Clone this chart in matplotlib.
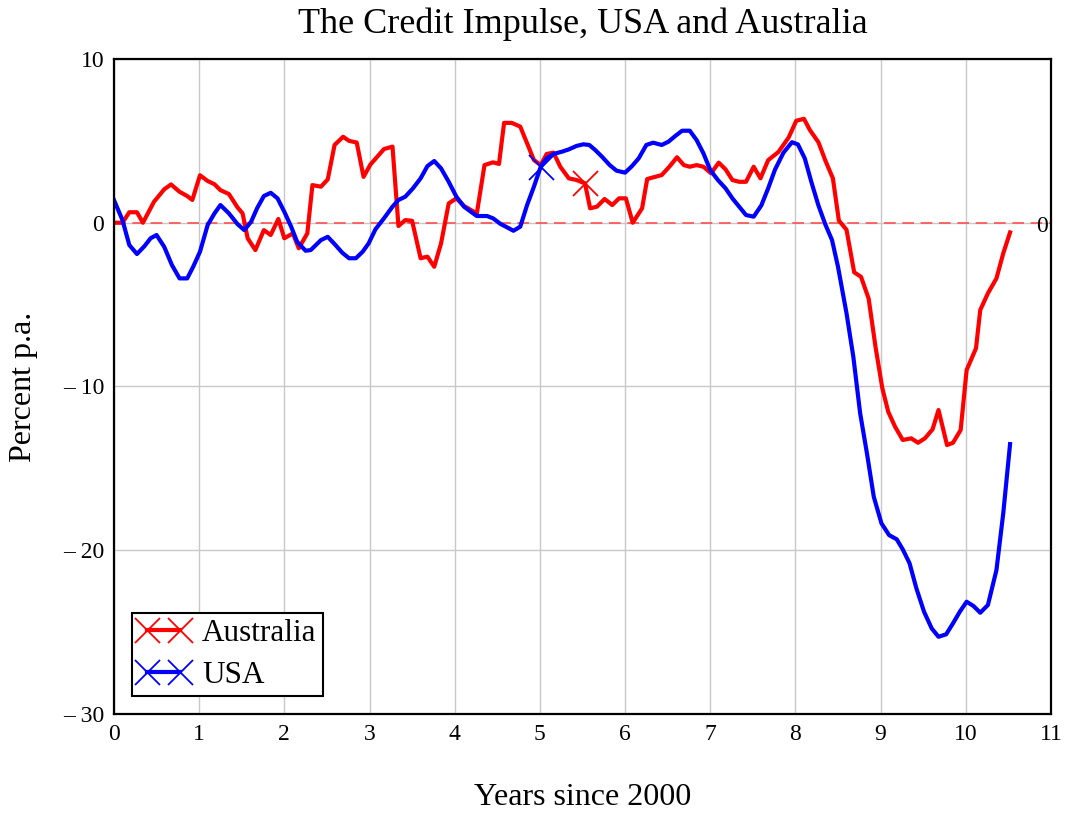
import matplotlib
matplotlib.use("Agg")
import matplotlib.pyplot as plt

# values (years since 2000, percent p.a.)
aus_x = [0.00, 0.10, 0.18, 0.27, 0.34, 0.47, 0.59, 0.67, 0.77, 0.86, 0.92,
         1.01, 1.10, 1.18, 1.25, 1.35, 1.45, 1.51, 1.57, 1.66, 1.76, 1.84, 1.93,
         2.00, 2.10, 2.17, 2.27, 2.33, 2.43, 2.51, 2.59, 2.69, 2.76, 2.85, 2.93,
         3.01, 3.17, 3.27, 3.34, 3.42, 3.50, 3.60, 3.68, 3.76, 3.84, 3.93,
         4.02, 4.11, 4.26, 4.35, 4.45, 4.52, 4.58, 4.67, 4.77, 4.85, 4.93,
         5.01, 5.08, 5.16, 5.24, 5.34, 5.43, 5.53, 5.59, 5.67, 5.76, 5.85, 5.93,
         6.01, 6.09, 6.20, 6.26, 6.33, 6.43, 6.52, 6.61, 6.69, 6.76, 6.84, 6.92,
         7.01, 7.10, 7.18, 7.26, 7.34, 7.42, 7.51, 7.59, 7.68, 7.80, 7.92,
         8.01, 8.10, 8.17, 8.27, 8.35, 8.44, 8.51, 8.60, 8.69, 8.77, 8.86, 8.94,
         9.02, 9.09, 9.17, 9.26, 9.36, 9.44, 9.52, 9.61, 9.68, 9.78, 9.85, 9.94,
         10.01, 10.12, 10.17, 10.26, 10.36, 10.44, 10.52]
aus_y = [0.0, 0.0, 0.64, 0.64, 0.0, 1.28, 2.04, 2.34, 1.89, 1.63, 1.39,
         2.90, 2.55, 2.35, 1.99, 1.75, 0.94, 0.57, -0.95, -1.67, -0.45, -0.75, 0.23,
         -0.95, -0.65, -1.56, -0.65, 2.30, 2.20, 2.65, 4.75, 5.25, 5.00, 4.90, 2.80,
         3.55, 4.50, 4.65, -0.20, 0.16, 0.12, -2.17, -2.07, -2.69, -1.26, 1.18,
         1.49, 1.02, 0.57, 3.52, 3.69, 3.59, 6.10, 6.10, 5.87, 4.85, 3.83,
         3.52, 4.20, 4.28, 3.42, 2.71, 2.61, 2.40, 0.88, 0.98, 1.45, 1.08, 1.49,
         1.49, 0.0, 0.88, 2.67, 2.77, 2.91, 3.42, 4.00, 3.52, 3.42, 3.52, 3.42,
         3.02, 3.67, 3.26, 2.61, 2.50, 2.50, 3.42, 2.71, 3.82, 4.32, 5.20,
         6.23, 6.35, 5.66, 4.92, 3.82, 2.71, 0.14, -0.43, -3.03, -3.30, -4.64, -7.57,
         -10.1, -11.55, -12.46, -13.27, -13.17, -13.44, -13.17, -12.62, -11.44, -13.58, -13.44, -12.66,
         -9.0, -7.67, -5.33, -4.31, -3.40, -1.87, -0.59]

usa_x = [0.00, 0.10, 0.18, 0.27, 0.36, 0.43, 0.50, 0.59, 0.68, 0.77, 0.86, 0.93,
         1.01, 1.10, 1.18, 1.25, 1.35, 1.45, 1.53, 1.61, 1.68, 1.76, 1.84, 1.92,
         2.00, 2.08, 2.15, 2.25, 2.31, 2.43, 2.51, 2.60, 2.68, 2.76, 2.84, 2.92, 2.99,
         3.07, 3.17, 3.27, 3.34, 3.42, 3.51, 3.60, 3.68, 3.76, 3.84, 3.93,
         4.02, 4.11, 4.19, 4.26, 4.38, 4.45, 4.54, 4.60, 4.69, 4.77, 4.85, 4.93,
         5.01, 5.08, 5.16, 5.26, 5.34, 5.43, 5.51, 5.58, 5.65, 5.73, 5.82, 5.90,
         6.00, 6.08, 6.16, 6.25, 6.33, 6.43, 6.51, 6.59, 6.67, 6.76, 6.84, 6.92,
         7.00, 7.09, 7.18, 7.26, 7.34, 7.42, 7.51, 7.60, 7.68, 7.76, 7.86, 7.96,
         8.03, 8.11, 8.19, 8.27, 8.35, 8.43, 8.50, 8.60, 8.68, 8.76, 8.84, 8.92,
         9.01, 9.10, 9.19, 9.26, 9.34, 9.42, 9.51, 9.60, 9.68, 9.77, 9.85, 9.93,
         10.01, 10.09, 10.17, 10.26, 10.36, 10.44, 10.52]
usa_y = [1.39, 0.16, -1.36, -1.91, -1.42, -0.95, -0.75, -1.47, -2.58, -3.40, -3.40, -2.69,
         -1.77, -0.14, 0.57, 1.08, 0.57, -0.08, -0.45, 0.06, 0.88, 1.63, 1.83, 1.49,
         0.67, -0.24, -1.16, -1.71, -1.67, -1.06, -0.86, -1.36, -1.83, -2.17, -2.17, -1.77, -1.26,
         -0.40, 0.27, 0.98, 1.39, 1.59, 2.10, 2.71, 3.46, 3.77, 3.32, 2.50,
         1.59, 0.98, 0.67, 0.41, 0.41, 0.27, -0.08, -0.24, -0.49, -0.24, 1.08, 2.20,
         3.42, 3.93, 4.20, 4.34, 4.48, 4.69, 4.79, 4.75, 4.44, 4.03, 3.52, 3.18,
         3.06, 3.45, 3.93, 4.75, 4.89, 4.75, 4.95, 5.30, 5.62, 5.62, 5.05, 4.24,
         3.22, 2.61, 2.10, 1.49, 0.98, 0.47, 0.37, 1.06, 2.10, 3.24, 4.28, 4.92,
         4.78, 3.93, 2.44, 1.06, -0.09, -1.06, -2.69, -5.53, -8.19, -11.64, -14.09, -16.74,
         -18.36, -19.08, -19.34, -19.95, -20.8, -22.33, -23.76, -24.78, -25.29, -25.14, -24.47, -23.76,
         -23.15, -23.41, -23.82, -23.35, -21.22, -17.75, -13.52]

aus_mark = 5.53
usa_mark = 5.01

x_ticks = list(range(0, 12))
y_ticks = [-30, -20, -10, 0, 10]
y_labels = ["\u2013 30", "\u2013 20", "\u2013 10", "0", "10"]

plt.rcParams["font.family"] = ["Liberation Serif", "DejaVu Serif"]

fig = plt.figure(figsize=(10.7, 8.14), dpi=100)
ax = fig.add_axes([0.1065, 0.123, 0.8757, 0.8045])

ax.grid(True, color="#c8c8c8", linewidth=1.0)
ax.set_axisbelow(True)
ax.axhline(0, color="#ff5050", linewidth=1.2, dashes=(7, 4), zorder=1.5)

ax.plot(aus_x, aus_y, color="red", linewidth=3, marker="x", markersize=18,
        markeredgewidth=1.3, markevery=[aus_x.index(aus_mark)], label="Australia")
ax.plot(usa_x, usa_y, color="blue", linewidth=3, marker="x", markersize=18,
        markeredgewidth=1.3, markevery=[usa_x.index(usa_mark)], label="USA")

ax.text(10.9, -0.25, "0", fontsize=17, ha="center", va="center")

ax.set_xlim(0, 11)
ax.set_ylim(-30, 10)
ax.set_xticks(x_ticks)
ax.set_yticks(y_ticks)
ax.set_yticklabels(y_labels)
ax.tick_params(length=0, labelsize=17, pad=7)
for s in ax.spines.values():
    s.set_linewidth(1.6)

ax.set_title("The Credit Impulse, USA and Australia", fontsize=26, pad=19)
ax.set_xlabel("Years since 2000", fontsize=23, labelpad=28)
ax.set_ylabel("Percent p.a.", fontsize=23, labelpad=18)

leg = ax.legend(loc="lower left", bbox_to_anchor=(0.019, 0.027), borderaxespad=0,
                fontsize=22.5, numpoints=2, handlelength=1.65, handletextpad=0.4,
                labelspacing=0.42, borderpad=0.2, fancybox=False, framealpha=1,
                edgecolor="black")
leg.get_frame().set_linewidth(1.5)

fig.savefig("out.png", dpi=100)
